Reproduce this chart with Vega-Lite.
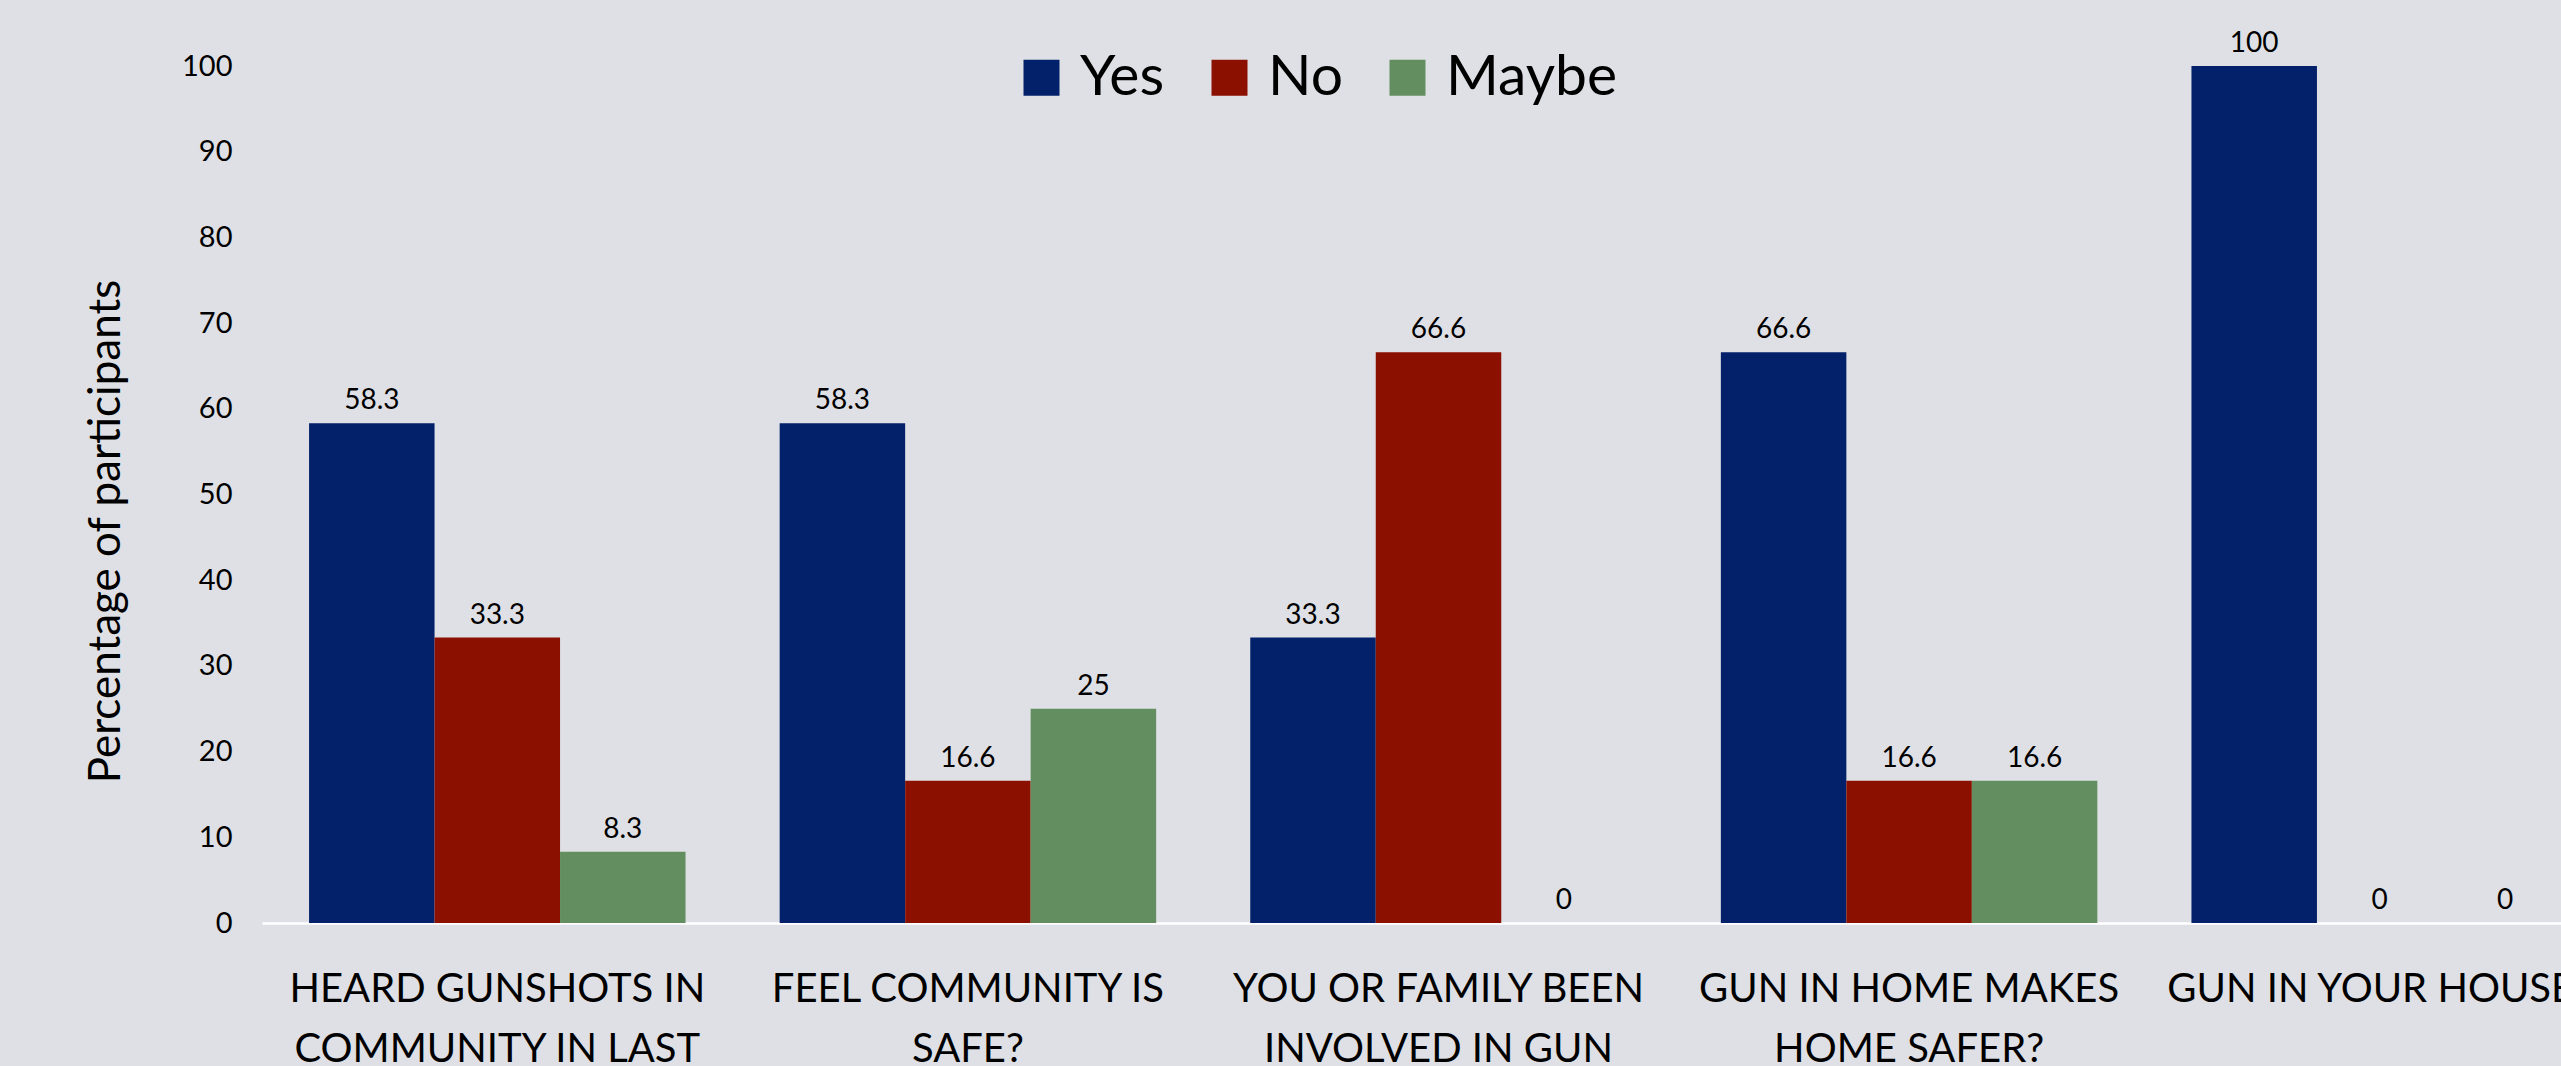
{
  "$schema": "https://vega.github.io/schema/vega-lite/v6.json",
  "width": 2299,
  "height": 857,
  "autosize": {"type": "none"},
  "padding": {"left": 262, "top": 66, "right": 0, "bottom": 143},
  "background": "#dfe0e5",
  "config": {
    "view": {"stroke": null},
    "font": "Lato, sans-serif"
  },
  "data": {
    "values": [
      {"question": "HEARD GUNSHOTS IN|COMMUNITY IN LAST", "answer": "Yes", "pct": 58.3},
      {"question": "HEARD GUNSHOTS IN|COMMUNITY IN LAST", "answer": "No", "pct": 33.3},
      {"question": "HEARD GUNSHOTS IN|COMMUNITY IN LAST", "answer": "Maybe", "pct": 8.3},
      {"question": "FEEL COMMUNITY IS|SAFE?", "answer": "Yes", "pct": 58.3},
      {"question": "FEEL COMMUNITY IS|SAFE?", "answer": "No", "pct": 16.6},
      {"question": "FEEL COMMUNITY IS|SAFE?", "answer": "Maybe", "pct": 25},
      {"question": "YOU OR FAMILY BEEN|INVOLVED IN GUN", "answer": "Yes", "pct": 33.3},
      {"question": "YOU OR FAMILY BEEN|INVOLVED IN GUN", "answer": "No", "pct": 66.6},
      {"question": "YOU OR FAMILY BEEN|INVOLVED IN GUN", "answer": "Maybe", "pct": 0},
      {"question": "GUN IN HOME MAKES|HOME SAFER?", "answer": "Yes", "pct": 66.6},
      {"question": "GUN IN HOME MAKES|HOME SAFER?", "answer": "No", "pct": 16.6},
      {"question": "GUN IN HOME MAKES|HOME SAFER?", "answer": "Maybe", "pct": 16.6},
      {"question": "GUN IN YOUR HOUSE?", "answer": "Yes", "pct": 100},
      {"question": "GUN IN YOUR HOUSE?", "answer": "No", "pct": 0},
      {"question": "GUN IN YOUR HOUSE?", "answer": "Maybe", "pct": 0}
    ]
  },
  "encoding": {
    "x": {
      "field": "question",
      "type": "nominal",
      "sort": null,
      "scale": {"range": [0, 2353], "paddingInner": 0.2, "paddingOuter": 0.1},
      "axis": {
        "title": null,
        "labelExpr": "split(datum.label, '|')",
        "labelAngle": 0,
        "labelFontSize": 40,
        "labelLineHeight": 60,
        "labelPadding": 46,
        "labelColor": "#000000",
        "labelLimit": 2000,
        "labelOverlap": false,
        "ticks": false,
        "domain": true,
        "domainColor": "#ffffff",
        "domainWidth": 2.5
      }
    },
    "xOffset": {
      "field": "answer",
      "type": "nominal",
      "sort": ["Yes", "No", "Maybe"],
      "scale": {"paddingInner": 0, "paddingOuter": 0}
    },
    "y": {
      "field": "pct",
      "type": "quantitative",
      "scale": {"domain": [0, 100], "nice": false},
      "axis": {
        "title": "Percentage of participants",
        "titleFontSize": 44,
        "titleFontWeight": "normal",
        "titleColor": "#000000",
        "titleX": -156,
        "titleY": 465,
        "titleAngle": -90,
        "titleBaseline": "middle",
        "titleAlign": "center",
        "values": [0, 10, 20, 30, 40, 50, 60, 70, 80, 90, 100],
        "labelFontSize": 29,
        "labelPadding": 30,
        "labelColor": "#000000",
        "ticks": false,
        "domain": false,
        "grid": false
      }
    }
  },
  "layer": [
    {
      "mark": {"type": "bar"},
      "encoding": {
        "color": {
          "field": "answer",
          "type": "nominal",
          "sort": ["Yes", "No", "Maybe"],
          "scale": {"domain": ["Yes", "No", "Maybe"], "range": ["#02216a", "#8b1000", "#638e60"]},
          "legend": {
            "orient": "none",
            "legendX": 751,
            "legendY": -17,
            "direction": "horizontal",
            "title": null,
            "symbolType": "square",
            "symbolSize": 1296,
            "symbolStrokeWidth": 0,
            "symbolOpacity": 1,
            "labelFontSize": 57,
            "labelOffset": 10,
            "labelColor": "#000000",
            "labelLimit": 500,
            "columnPadding": 36,
            "padding": 0
          }
        }
      }
    },
    {
      "mark": {"type": "text", "baseline": "bottom", "dy": -8, "fontSize": 28, "color": "#000000"},
      "encoding": {
        "text": {"field": "pct", "type": "quantitative", "format": "~g"}
      }
    }
  ]
}
